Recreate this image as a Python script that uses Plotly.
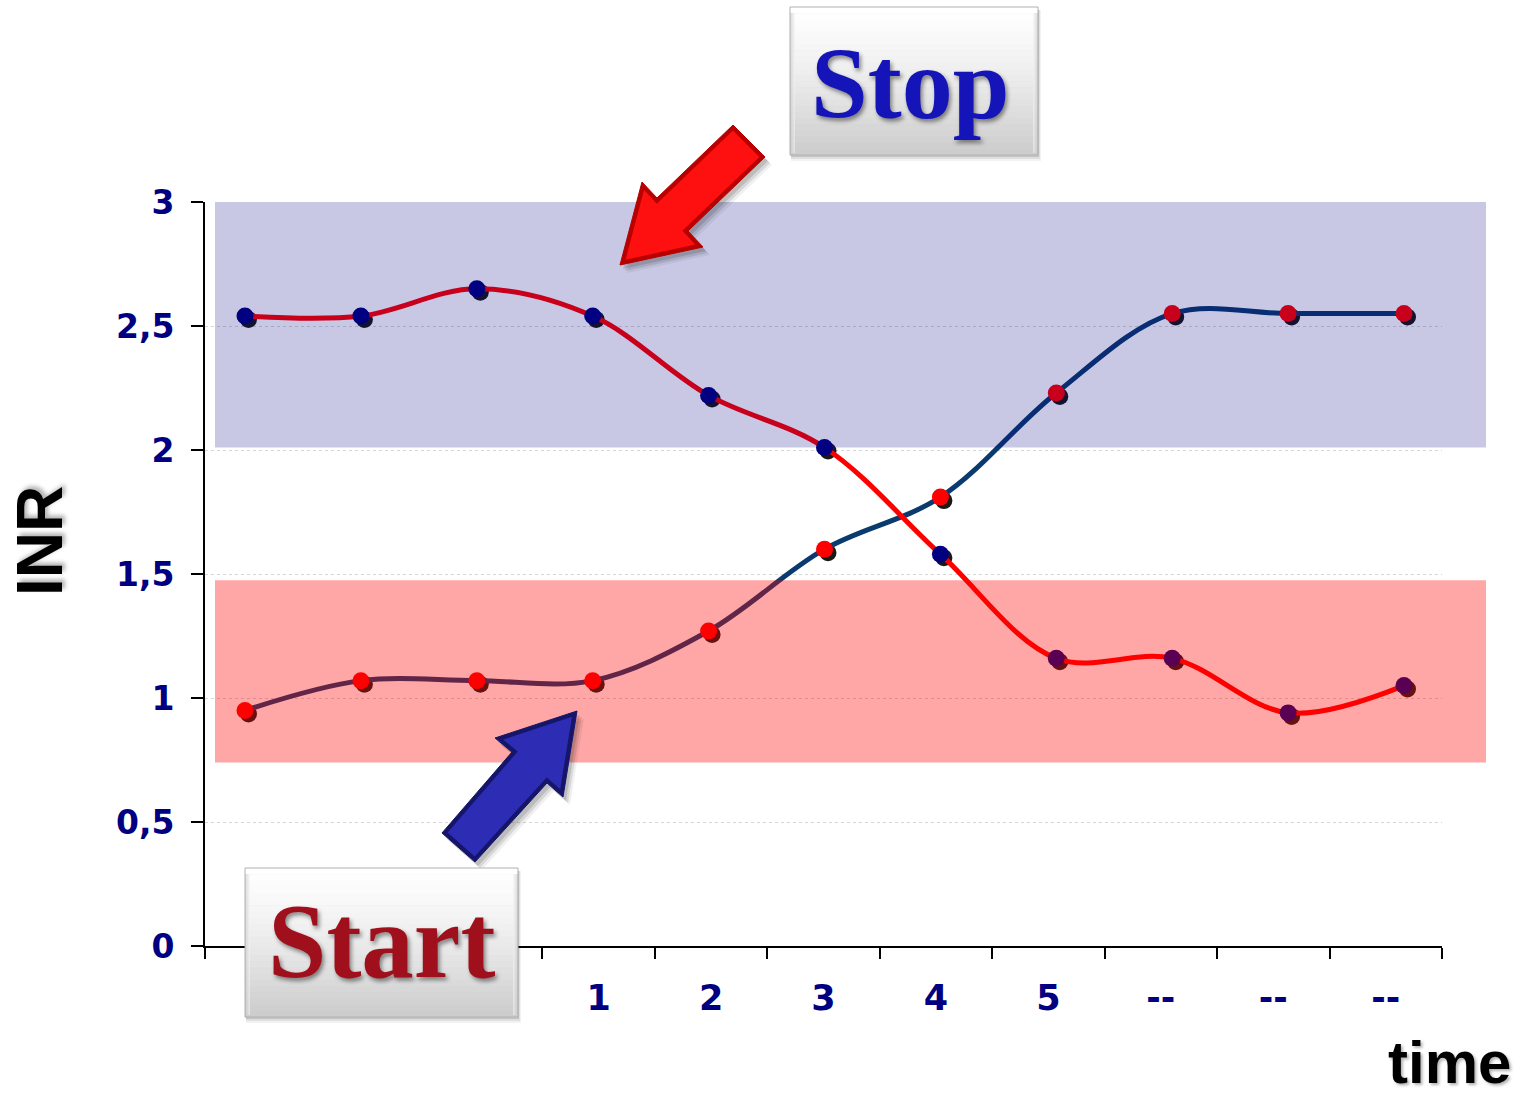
import plotly.graph_objects as go

# ---- data -------------------------------------------------------------
time_points = list(range(11))
time_labels = ["", "", "", "1", "2", "3", "4", "5", "--", "--", "--"]
inr_stopped = [2.54, 2.54, 2.65, 2.54, 2.22, 2.01, 1.58, 1.16, 1.16, 0.94, 1.05]
inr_started = [0.95, 1.07, 1.07, 1.07, 1.27, 1.60, 1.81, 2.23, 2.55, 2.55, 2.55]
y_ticks = [0, 0.5, 1, 1.5, 2, 2.5, 3]
y_tick_text = ["0", "0,5", "1", "1,5", "2", "2,5", "3"]
target_band = (2.01, 3.0)
low_band = (0.74, 1.475)

# ---- geometry ---------------------------------------------------------
W, H = 1525, 1098
L, R, T, B = 205, 1442, 202, 946          # plot area in pixels
STEP = 115.9                               # pixels between time points
X0 = 245                                   # pixel of first time point
x_lo = (L - X0) / STEP
x_hi = (R - X0) / STEP
cat_w = (R - L) / len(time_labels)
boundaries = [(L + k * cat_w - X0) / STEP for k in range(len(time_labels) + 1)]
centers = [(L + (k + 0.5) * cat_w - X0) / STEP for k in range(len(time_labels))]
lab_vals = [c for c, t in zip(centers, time_labels) if t]
lab_text = [t for t in time_labels if t]

y_lo, y_hi = 0, 3
px_per_y = (B - T) / (y_hi - y_lo)


def fx(px):
    return (px - L) / (R - L)


def fy(py):
    return (B - py) / (B - T)


NAVY = "#000080"
LINE_BLUE = "#0b3a6e"
RED = "#ff0000"

fig = go.Figure()

# marker drop shadows on an offset overlay
SH = 3.5
for vals in (inr_started, inr_stopped):
    fig.add_trace(go.Scatter(
        x=time_points, y=vals, mode="markers", xaxis="x2", yaxis="y2",
        marker=dict(size=17, color="rgba(0,0,0,0.9)"), hoverinfo="skip"))

fig.add_trace(go.Scatter(
    x=time_points, y=inr_started, mode="lines+markers", xaxis="x3", yaxis="y3",
    line=dict(color=LINE_BLUE, width=5, shape="spline", smoothing=1),
    marker=dict(size=17, color=RED)))
fig.add_trace(go.Scatter(
    x=time_points, y=inr_stopped, mode="lines+markers", xaxis="x3", yaxis="y3",
    line=dict(color=RED, width=5, shape="spline", smoothing=1),
    marker=dict(size=17, color=NAVY)))

shapes = []

# translucent INR ranges over the curves
shapes.append(dict(type="rect", xref="paper", yref="y", x0=fx(215), x1=fx(1486),
                   y0=target_band[0], y1=target_band[1],
                   fillcolor="rgba(0,0,128,0.215)", line=dict(width=0), layer="above"))
shapes.append(dict(type="rect", xref="paper", yref="y", x0=fx(215), x1=fx(1486),
                   y0=low_band[0], y1=low_band[1],
                   fillcolor="rgba(255,0,0,0.35)", line=dict(width=0), layer="above"))


def poly_path(pts, dx=0, dy=0):
    s = "M " + " L ".join(f"{fx(x + dx):.5f},{fy(y + dy):.5f}" for x, y in pts)
    return s + " Z"


def inset(pts, d):
    n = len(pts)
    area = sum(pts[i][0] * pts[(i + 1) % n][1] - pts[(i + 1) % n][0] * pts[i][1]
               for i in range(n)) / 2
    sgn = 1 if area > 0 else -1
    lines = []
    for i in range(n):
        (x0, y0), (x1, y1) = pts[i], pts[(i + 1) % n]
        ddx, ddy = x1 - x0, y1 - y0
        ln = (ddx ** 2 + ddy ** 2) ** 0.5
        nx, ny = -ddy / ln * sgn, ddx / ln * sgn
        lines.append(((x0 + nx * d, y0 + ny * d), (ddx, ddy)))
    out = []
    for i in range(n):
        (p1, d1), (p2, d2) = lines[i - 1], lines[i]
        cr = d1[0] * d2[1] - d1[1] * d2[0]
        t = ((p2[0] - p1[0]) * d2[1] - (p2[1] - p1[1]) * d2[0]) / cr
        out.append((p1[0] + t * d1[0], p1[1] + t * d1[1]))
    return out


def arrow(pts, dark, light):
    for k, a in ((7, 0.06), (5, 0.1), (3, 0.12)):
        shapes.append(dict(type="path", xref="paper", yref="paper",
                           path=poly_path(pts, k, k + 1), fillcolor=f"rgba(0,0,0,{a})",
                           line=dict(width=0), layer="above"))
    shapes.append(dict(type="path", xref="paper", yref="paper",
                       path=poly_path(pts), fillcolor=dark,
                       line=dict(width=1, color=dark), layer="above"))
    shapes.append(dict(type="path", xref="paper", yref="paper",
                       path=poly_path(inset(pts, 4)), fillcolor=light,
                       line=dict(width=0), layer="above"))


arrow([(620, 265), (642, 182), (657, 198), (733, 125), (765, 157), (688, 231), (703, 247)],
      "#b80000", "#ff1010")
arrow([(577, 711), (495, 738), (512, 752), (442, 833), (475, 862), (547, 783), (563, 797)],
      "#15156a", "#2c2cb4")


def button(x0, y0, x1, y1):
    for k, a in ((6, 0.05), (4, 0.08), (2, 0.12)):
        shapes.append(dict(type="rect", xref="paper", yref="paper",
                           x0=fx(x0 + 1), x1=fx(x1 + k * 0.5), y0=fy(y0 + 3), y1=fy(y1 + k),
                           fillcolor=f"rgba(0,0,0,{a})", line=dict(width=0), layer="above"))
    n = 24
    for i in range(n):
        a = i / (n - 1)
        c = int(255 - 50 * a ** 1.3)
        ya = y0 + (y1 - y0) * i / n
        yb = y0 + (y1 - y0) * (i + 1) / n
        shapes.append(dict(type="rect", xref="paper", yref="paper",
                           x0=fx(x0), x1=fx(x1), y0=fy(ya), y1=fy(yb + 0.6),
                           fillcolor=f"rgb({c},{c},{c})", line=dict(width=0),
                           layer="above"))
    for side in (0, 1):
        for j in range(5):
            c = 200 + j * 10
            xa = x0 + j if side == 0 else x1 - j - 1
            shapes.append(dict(type="rect", xref="paper", yref="paper",
                               x0=fx(xa), x1=fx(xa + 1), y0=fy(y0 + 6), y1=fy(y1 - 2),
                               fillcolor=f"rgba({c},{c},{c},0.6)", line=dict(width=0),
                               layer="above"))
    shapes.append(dict(type="rect", xref="paper", yref="paper",
                       x0=fx(x0), x1=fx(x1), y0=fy(y0), y1=fy(y1),
                       fillcolor="rgba(0,0,0,0)", line=dict(width=1, color="#b0b0b0"),
                       layer="above"))


button(790, 7, 1038, 155)
button(245, 868, 518, 1017)

annotations = [
    dict(text="<b>Stop</b>", xref="paper", yref="paper", x=fx(910), y=fy(83),
         xanchor="center", yanchor="middle", showarrow=False,
         font=dict(family="Liberation Serif", size=102, color="#1414b8",
                   shadow="2px 3px 4px rgba(0,0,0,0.45)")),
    dict(text="<b>Start</b>", xref="paper", yref="paper", x=fx(381), y=fy(941),
         xanchor="center", yanchor="middle", showarrow=False,
         font=dict(family="Liberation Serif", size=105, color="#a0101c",
                   shadow="2px 3px 4px rgba(0,0,0,0.45)")),
    dict(text="<b>INR</b>", xref="paper", yref="paper", x=fx(40), y=fy(541),
         xanchor="center", yanchor="middle", showarrow=False, textangle=-90,
         font=dict(family="Liberation Sans", size=64, color="black",
                   shadow="3px 3px 4px rgba(0,0,0,0.3)")),
    dict(text="<b>time</b>", xref="paper", yref="paper", x=fx(1449), y=fy(1097),
         xanchor="center", yanchor="bottom", showarrow=False, borderpad=0,
         font=dict(family="Liberation Sans", size=60, color="black",
                   shadow="2px 2px 3px rgba(0,0,0,0.3)")),
]

tick_font = dict(family="DejaVu Sans", size=33, color=NAVY, weight="bold")

fig.update_layout(
    width=W, height=H,
    margin=dict(l=L, r=W - R, t=T, b=H - B, pad=0),
    paper_bgcolor="white", plot_bgcolor="white",
    showlegend=False,
    xaxis=dict(range=[x_lo, x_hi], tickmode="array", tickvals=lab_vals, ticktext=lab_text,
               ticks="", showline=True, linecolor="black", linewidth=2,
               showgrid=False, zeroline=False, ticklabelstandoff=20,
               tickfont=dict(family="DejaVu Sans", size=35, color=NAVY, weight="bold"),
               minor=dict(tickmode="array", tickvals=boundaries, ticks="outside",
                          ticklen=11, tickwidth=1.5, tickcolor="black", showgrid=False)),
    yaxis=dict(range=[y_lo, y_hi], tickmode="array", tickvals=y_ticks, ticktext=y_tick_text,
               ticks="outside", ticklen=12, tickwidth=1.5, tickcolor="black",
               showline=True, linecolor="black", linewidth=2,
               showgrid=True, gridcolor="#d6d6d6", gridwidth=1, griddash="dot",
               zeroline=False, ticklabelstandoff=10, tickfont=tick_font),
    xaxis2=dict(range=[x_lo - SH / STEP, x_hi - SH / STEP], overlaying="x", visible=False),
    yaxis2=dict(range=[y_lo + SH / px_per_y, y_hi + SH / px_per_y], overlaying="y",
                visible=False),
    xaxis3=dict(range=[x_lo, x_hi], overlaying="x", visible=False),
    yaxis3=dict(range=[y_lo, y_hi], overlaying="y", visible=False),
    shapes=shapes,
    annotations=annotations,
)

fig.write_html("out.html")
